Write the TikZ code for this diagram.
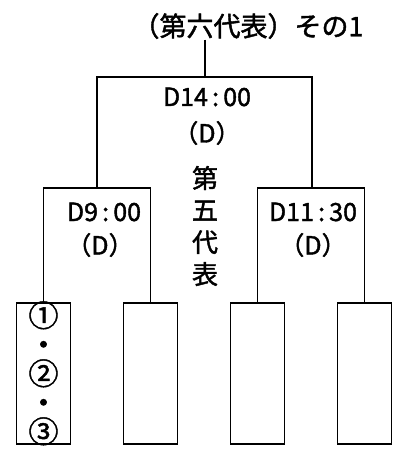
\documentclass[tikz,border=0pt]{standalone}
\usepackage{fontspec}
\setmainfont{Noto Sans CJK JP}[AutoFakeBold=1.6]
\usetikzlibrary{positioning}

\begin{document}
\begin{tikzpicture}[x=1pt, y=-1pt, line width=1.6pt,
  leaf/.style={rectangle, draw, minimum width=54pt, minimum height=141pt, anchor=north, inner sep=0pt},
  lbl/.style={font=\fontsize{25}{27}\selectfont\bfseries, inner sep=0pt}]
\useasboundingbox (0,0) rectangle (405,454);

\node[font=\fontsize{27}{29}\selectfont\bfseries, inner sep=0pt] (title) at (248,26) {（第六代表）その1};

% match points of the bracket
\coordinate (final) at (205,77);
\coordinate (semiA) at (97,188);
\coordinate (semiB) at (312,188);

\node[leaf] (team1) at (43.5,302) {};
\node[leaf] (team2) at (150.5,302) {};
\node[leaf] (team3) at (257.5,302) {};
\node[leaf] (team4) at (364.5,302) {};

\draw (title.south -| final) -- (final);
\draw (semiA) |- (final) -| (semiB);
\draw (team1.north) |- (semiA) -| (team2.north);
\draw (team3.north) |- (semiB) -| (team4.north);

\node[lbl] (finalT) at (207,97) {D14\,:\,00};
\node[lbl] (finalD) at (207,133) {（D）};
\node[lbl] (semiAT) at (104,212) {D9\,:\,00};
\node[lbl] (semiAD) at (100,245) {（D）};
\node[lbl] (semiBT) at (313,212) {D11\,:\,30};
\node[lbl] (semiBD) at (313,245) {（D）};

% seed of the fifth representative
\node[align=center, font=\fontsize{26}{32}\selectfont\bfseries, inner sep=0pt] (fifth) at (205,226) {第\\五\\代\\表};

\node[align=center, font=\fontsize{30}{29}\selectfont\bfseries, inner sep=0pt] (seeds) at (team1.center) {①\\・\\②\\・\\③};
\end{tikzpicture}
\end{document}
